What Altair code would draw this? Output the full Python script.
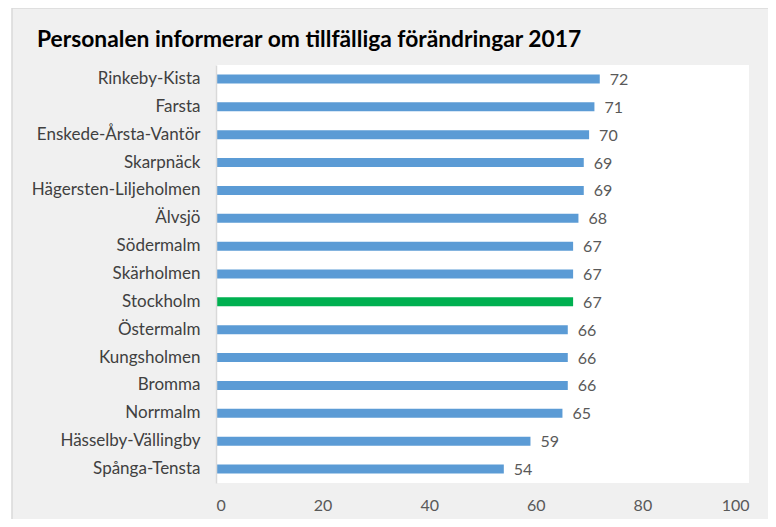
import altair as alt
import pandas as pd

categories = [
    "Rinkeby-Kista", "Farsta", "Enskede-Årsta-Vantör", "Skarpnäck",
    "Hägersten-Liljeholmen", "Älvsjö", "Södermalm", "Skärholmen",
    "Stockholm", "Östermalm", "Kungsholmen", "Bromma", "Norrmalm",
    "Hässelby-Vällingby", "Spånga-Tensta",
]
values = [72, 71, 70, 69, 69, 68, 67, 67, 67, 66, 66, 66, 65, 59, 54]
bar_colors = ["#00B050" if c == "Stockholm" else "#5B9BD5" for c in categories]
x_ticks = [0, 20, 40, 60, 80, 100]
title_text = "Personalen informerar om tillfälliga förändringar 2017"

df = pd.DataFrame({"Område": categories, "Andel": values, "Färg": bar_colors})

FONT = "Lato"
W, H = 533, 418

y_enc = alt.Y(
    "Område:N", sort=categories,
    axis=alt.Axis(title=None, labelFont=FONT, labelFontSize=17, labelColor="#404040",
                  labelPadding=16, ticks=False, domainColor="#d9d9d9", domainWidth=1.5,
                  grid=False, zindex=1, labelLimit=300),
)

bg = alt.Chart(alt.Data(values=[{}])).mark_rect(
    fill="#f0f0f0", stroke="#d9d9d9", strokeWidth=1.5
).encode(x=alt.value(-204), x2=alt.value(W + 60), y=alt.value(-57), y2=alt.value(H + 80))

plotbg = alt.Chart(alt.Data(values=[{}])).mark_rect(fill="white").encode(
    x=alt.value(0), x2=alt.value(W), y=alt.value(0), y2=alt.value(H)
)

bars = alt.Chart(df).mark_bar(size=9).encode(
    y=y_enc,
    x=alt.X("Andel:Q", scale=alt.Scale(domain=[0, 100]),
            axis=alt.Axis(values=x_ticks, title=None, grid=False, domain=False, ticks=False,
                          labelPadding=14, labelFont=FONT, labelFontSize=16,
                          labelColor="#595959", zindex=1)),
    color=alt.Color("Färg:N", scale=None),
)

labels = alt.Chart(df).mark_text(
    align="left", baseline="middle", dx=10, dy=1, fontSize=16, font=FONT, color="#595959"
).encode(y=alt.Y("Område:N", sort=categories), x="Andel:Q", text="Andel:Q")

chart = alt.layer(bg, plotbg, bars, labels).properties(
    width=W, height=H,
    title=alt.TitleParams(title_text, anchor="start", frame="group", dx=-179, dy=59, offset=14,
                          fontSize=22.8, font=FONT, fontWeight="bold", color="#000000"),
    autosize=alt.AutoSizeParams(type="none"),
    padding={"left": 208, "top": 57, "right": 19, "bottom": 36},
    background="white",
).configure_view(stroke=None)

chart.save("out.html", embed_options={"renderer": "svg", "actions": False})
